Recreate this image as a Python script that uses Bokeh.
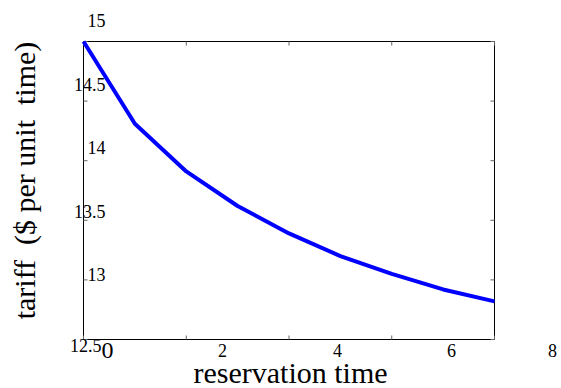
from bokeh.plotting import figure
from bokeh.models import Range1d
from bokeh.core.properties import value
from bokeh.embed import file_html
from bokeh.resources import INLINE
import math

# ---- data ----
reservation_time = [0, 1, 2, 3, 4, 5, 6, 7, 8]
tariff = [15.0, 14.31, 13.91, 13.62, 13.39, 13.20, 13.05, 12.92, 12.82]

x_lim = [0, 8]
y_lim = [12.5, 15]
x_ticks = [0, 2, 4, 6, 8]
x_tick_labels = ["0", "2", "4", "6", "8"]
y_ticks = [12.5, 13, 13.5, 14, 14.5, 15]
y_tick_labels = ["12.5", "13", "13.5", "14", "14.5", "15"]

x_title = "reservation time"
y_title = "tariff \u00a0($ per unit \u00a0time)"

# ---- layout constants (page pixels, top-down) ----
W, H = 561, 388
FL, FR, FT, FB = 83, 494, 41, 339   # axes box edges on the page
TICK_PX = 4
XLAB_PX = [107, 222, 337, 451, 552]
XLAB_Y = 350
YLAB_RIGHT = [101, 105, 105, 105, 105, 105]
YLAB_Y = [345, 274, 211, 147, 84, 20]
XTITLE_PX = (290, 372)
YTITLE_PX = (24, 180)
FONT = "Liberation Serif"

# scales: page pixels per data unit
SX = (FR - FL) / (x_lim[1] - x_lim[0])
SY = (FB - FT) / (y_lim[1] - y_lim[0])

def dx(px):
    return x_lim[0] + (px - FL) / SX

def dy(py):
    return y_lim[1] - (py - FT) / SY

p = figure(width=W, height=H, output_backend="svg", toolbar_location=None,
           x_range=Range1d(dx(0), dx(W)), y_range=Range1d(dy(H), dy(0)),
           x_axis_location=None, y_axis_location=None, min_border=0)
p.min_border_left = p.min_border_right = p.min_border_top = p.min_border_bottom = 0
p.grid.visible = False
p.outline_line_color = None
p.background_fill_color = "white"
p.border_fill_color = "white"

# axes box
p.quad(left=[x_lim[0]], right=[x_lim[1]], bottom=[y_lim[0]], top=[y_lim[1]],
       fill_color=None, line_color="black", line_width=1)

# inward tick marks on all four sides
tx = TICK_PX / SX
ty = TICK_PX / SY
tick_style = dict(line_color="#666666", line_width=1)
p.segment(x0=x_ticks, y0=[y_lim[0]] * len(x_ticks), x1=x_ticks,
          y1=[y_lim[0] + ty] * len(x_ticks), **tick_style)
p.segment(x0=x_ticks, y0=[y_lim[1]] * len(x_ticks), x1=x_ticks,
          y1=[y_lim[1] - ty] * len(x_ticks), **tick_style)
p.segment(x0=[x_lim[0]] * len(y_ticks), y0=y_ticks, x1=[x_lim[0] + tx] * len(y_ticks),
          y1=y_ticks, **tick_style)
p.segment(x0=[x_lim[1]] * len(y_ticks), y0=y_ticks, x1=[x_lim[1] - tx] * len(y_ticks),
          y1=y_ticks, **tick_style)

# data curve
p.line(reservation_time, tariff, line_color="#0000ff", line_width=4)

# tick labels (placed as in the reference export)
p.text(x=[dx(XLAB_PX[0])], y=[dy(XLAB_Y)], text=x_tick_labels[:1],
       text_font=value(FONT), text_font_size=value("24px"), text_color="black",
       text_align="center", text_baseline="alphabetic")
p.text(x=[dx(v) for v in XLAB_PX[1:]], y=[dy(XLAB_Y)] * 4, text=x_tick_labels[1:],
       text_font=value(FONT), text_font_size=value("18px"), text_color="black",
       text_align="center", text_baseline="alphabetic")
p.text(x=[dx(v) for v in YLAB_RIGHT], y=[dy(v) for v in YLAB_Y], text=y_tick_labels,
       text_font=value(FONT), text_font_size=value("18px"), text_color="black",
       text_align="right", text_baseline="alphabetic")

# axis titles
p.text(x=[dx(XTITLE_PX[0])], y=[dy(XTITLE_PX[1])], text=[x_title],
       text_font=value(FONT), text_font_size=value("30px"), text_color="black",
       text_align="center", text_baseline="alphabetic")
p.text(x=[dx(YTITLE_PX[0])], y=[dy(YTITLE_PX[1])], text=[y_title], angle=math.pi / 2,
       text_font=value(FONT), text_font_size=value("30px"), text_color="black",
       text_align="center", text_baseline="alphabetic")

open("out.html", "w").write(file_html(p, INLINE))
